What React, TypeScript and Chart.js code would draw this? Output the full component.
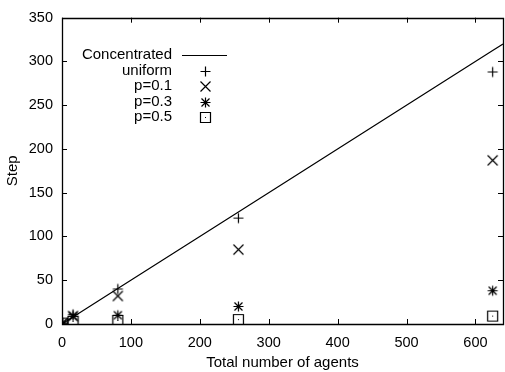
import React, { useEffect, useRef } from "react";
import { Chart, registerables } from "chart.js";

Chart.register(...registerables);

const agents = [1, 16, 81, 256, 625];
const concentratedX = [0, 1, 16, 81, 256, 625, 640];
const concentratedY = [0, 0.5, 8, 40.5, 128, 312.5, 320];
const uniform = [1, 11, 40, 121, 288];
const p01 = [1, 9, 32, 85, 187];
const p03 = [1, 9, 10, 20, 38];
const p05 = [1, 3, 4, 5, 9];
const seriesLabels = ["Concentrated", "uniform", "p=0.1", "p=0.3", "p=0.5"];
const xTicks = [0, 100, 200, 300, 400, 500, 600];
const yTicks = [0, 50, 100, 150, 200, 250, 300, 350];

const FONT = "'Liberation Sans', Arial, sans-serif";

function makeMarker(kind: string): HTMLCanvasElement {
  const c = document.createElement("canvas");
  c.width = 13;
  c.height = 13;
  const g = c.getContext("2d")!;
  g.strokeStyle = "#000";
  g.lineWidth = 1.2;
  const m = 6.5;
  g.beginPath();
  if (kind === "plus" || kind === "star") {
    g.moveTo(m - 5, m);
    g.lineTo(m + 5, m);
    g.moveTo(m, m - 5);
    g.lineTo(m, m + 5);
  }
  if (kind === "cross" || kind === "star") {
    const d = kind === "star" ? 4 : 5;
    g.moveTo(m - d, m - d);
    g.lineTo(m + d, m + d);
    g.moveTo(m - d, m + d);
    g.lineTo(m + d, m - d);
  }
  if (kind === "box") {
    g.rect(m - 5, m - 5, 10, 10);
  }
  g.stroke();
  if (kind === "box") {
    g.fillStyle = "#000";
    g.fillRect(6, 6, 1, 1);
  }
  return c;
}

export default function App() {
  const ref = useRef<HTMLCanvasElement>(null);
  useEffect(() => {
    document.body.style.margin = "0";
    document.body.style.overflow = "hidden";
    const markers = {
      plus: makeMarker("plus"),
      cross: makeMarker("cross"),
      star: makeMarker("star"),
      box: makeMarker("box"),
    };
    const toPts = (ys: number[]) => agents.map((x, i) => ({ x, y: ys[i] }));

    const framePlugin = {
      id: "frame",
      afterDatasetsDraw(chart: any) {
        const { ctx, chartArea } = chart;
        const { left, right, top, bottom } = chartArea;
        const xs = chart.scales.x;
        const ys = chart.scales.y;
        ctx.save();
        ctx.strokeStyle = "#000";
        ctx.lineWidth = 1.3;
        ctx.beginPath();
        ctx.rect(Math.round(left) + 0.5, Math.round(top) + 0.5, Math.round(right - left), Math.round(bottom - top));
        ctx.stroke();
        ctx.lineWidth = 1;
        ctx.beginPath();
        const tl = 5;
        xTicks.forEach((v) => {
          const px = Math.round(xs.getPixelForValue(v)) + 0.5;
          ctx.moveTo(px, bottom);
          ctx.lineTo(px, bottom - tl);
          ctx.moveTo(px, top);
          ctx.lineTo(px, top + tl);
        });
        yTicks.forEach((v) => {
          const py = Math.round(ys.getPixelForValue(v)) + 0.5;
          ctx.moveTo(left, py);
          ctx.lineTo(left + tl, py);
          ctx.moveTo(right, py);
          ctx.lineTo(right - tl, py);
        });
        ctx.stroke();

        // legend
        const textX = 172;
        const symX = 205;
        const rows = [55, 71, 86, 102, 117];
        const syms = [null, markers.plus, markers.cross, markers.star, markers.box];
        ctx.font = "15px " + FONT;
        ctx.fillStyle = "#000";
        ctx.textAlign = "right";
        ctx.textBaseline = "middle";
        rows.forEach((ry, i) => {
          ctx.fillText(seriesLabels[i], textX, ry);
          const s = syms[i];
          if (s) {
            ctx.drawImage(s, Math.round(symX - 6.5), Math.round(ry - 6.5));
          } else {
            ctx.lineWidth = 1.1;
            ctx.beginPath();
            ctx.moveTo(182, Math.round(ry) + 0.5);
            ctx.lineTo(227, Math.round(ry) + 0.5);
            ctx.stroke();
          }
        });
        ctx.restore();
      },
    };

    const chart = new Chart(ref.current!, {
      type: "scatter",
      data: {
        datasets: [
          {
            label: seriesLabels[0],
            data: concentratedX.map((x, i) => ({ x, y: concentratedY[i] })),
            showLine: true,
            borderColor: "#000",
            borderWidth: 1.2,
            pointRadius: 0,
            fill: false,
          },
          { label: seriesLabels[1], data: toPts(uniform), pointStyle: markers.plus as any, pointRadius: 6 },
          { label: seriesLabels[2], data: toPts(p01), pointStyle: markers.cross as any, pointRadius: 6 },
          { label: seriesLabels[3], data: toPts(p03), pointStyle: markers.star as any, pointRadius: 6 },
          { label: seriesLabels[4], data: toPts(p05), pointStyle: markers.box as any, pointRadius: 6 },
        ],
      },
      options: {
        responsive: false,
        animation: false,
        events: [],
        layout: { padding: { top: 10, right: 2, left: 0, bottom: 0 } },
        plugins: { legend: { display: false }, tooltip: { enabled: false } },
        scales: {
          x: {
            type: "linear",
            min: 0,
            max: 640,
            grid: { display: false, drawTicks: false },
            border: { display: false },
            afterBuildTicks: (s: any) => {
              s.ticks = xTicks.map((v) => ({ value: v }));
            },
            afterFit: (s: any) => {
              s.height = 48;
            },
            ticks: { color: "#000", font: { family: FONT, size: 14.5 }, padding: 10, maxRotation: 0 },
            title: {
              display: true,
              text: "Total number of agents",
              color: "#000",
              font: { family: FONT, size: 15 },
              padding: { top: 0, bottom: 0 },
            },
          },
          y: {
            type: "linear",
            min: 0,
            max: 350,
            grid: { display: false, drawTicks: false },
            border: { display: false },
            afterBuildTicks: (s: any) => {
              s.ticks = yTicks.map((v) => ({ value: v }));
            },
            afterFit: (s: any) => {
              s.width = 62;
            },
            ticks: { color: "#000", font: { family: FONT, size: 14.5 }, padding: 9 },
            title: {
              display: true,
              text: "Step",
              color: "#000",
              font: { family: FONT, size: 15 },
              padding: { top: 4, bottom: 0 },
            },
          },
        },
      },
      plugins: [framePlugin],
    } as any);
    return () => chart.destroy();
  }, []);

  return (
    <div style={{ position: "fixed", left: 0, top: 0, width: 505, height: 372, overflow: "hidden", background: "#fff" }}>
      <canvas ref={ref} width={510} height={372} style={{ width: 510, height: 372, display: "block" }} />
    </div>
  );
}
